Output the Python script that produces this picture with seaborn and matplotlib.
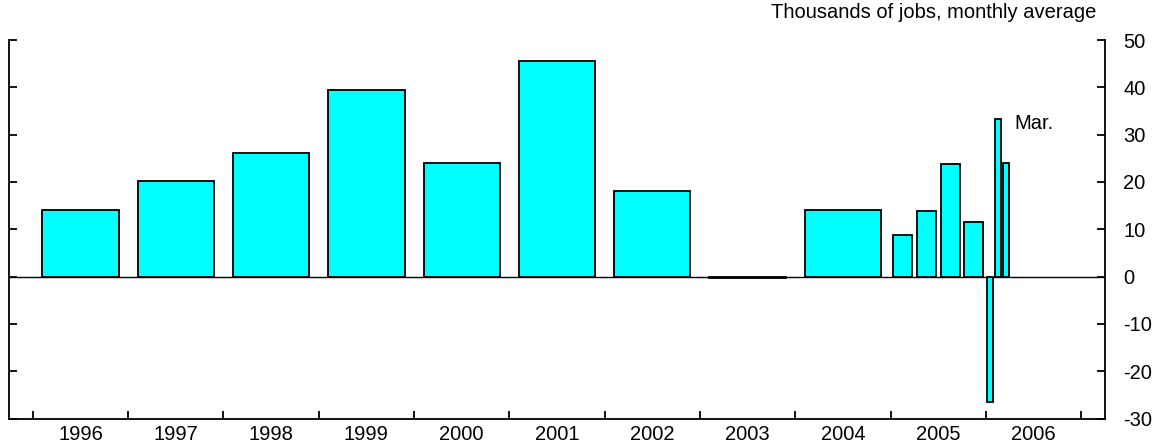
import numpy as np
import matplotlib
matplotlib.use("Agg")
import matplotlib.pyplot as plt
import seaborn as sns

# annual averages 1996-2004
years = [1996, 1997, 1998, 1999, 2000, 2001, 2002, 2003, 2004]
annual = [14.0, 20.3, 26.2, 39.5, 24.1, 45.5, 18.0, -0.3, 14.0]
# quarterly 2005
quarters = [1, 2, 3, 4]
quarterly = [8.7, 13.8, 23.7, 11.6]
# monthly 2006
months = [1, 2, 3]
monthly = [-26.5, 33.2, 24.0]
year_labels = [str(y) for y in range(1996, 2007)]

sns.set_style("ticks")
plt.rcParams["font.family"] = ["Liberation Sans", "DejaVu Sans"]
plt.rcParams["font.size"] = 14.5
plt.rcParams["axes.unicode_minus"] = False
for k in ["text.color", "axes.labelcolor", "xtick.color", "ytick.color", "axes.edgecolor"]:
    plt.rcParams[k] = "black"

fig = plt.figure(figsize=(11.55, 4.44), dpi=100)
ax = fig.add_axes([0.0078, 0.0574, 0.9489, 0.8525])

bar_kw = dict(color="#00ffff", saturation=1, edgecolor="black", linewidth=1.3,
              native_scale=True, width=0.8, ax=ax, errorbar=None)

x_ann = [y + 0.5 for y in years]
x_q = [2005 + (q - 0.5) / 4 for q in quarters]
x_m = [2006 + (m - 0.5) / 12 for m in months]

sns.barplot(x=x_ann, y=annual, **bar_kw)
sns.barplot(x=x_q, y=quarterly, **bar_kw)
sns.barplot(x=x_m, y=monthly, **bar_kw)

ax.axhline(0, color="black", lw=1.0, zorder=0)

ax.set_xlim(1995.75, 2007.25)
ax.set_ylim(-30, 50)
ax.set_xlabel("")
ax.set_ylabel("")

ax.set_xticks(range(1996, 2008))
ax.set_xticklabels([])
ax.set_xticks([y + 0.5 for y in range(1996, 2007)], minor=True)
ax.set_xticklabels(year_labels, minor=True)
ax.tick_params(axis="x", which="major", direction="in", length=6, width=1.3)
ax.tick_params(axis="x", which="minor", length=0, pad=5)

ax.set_yticks(range(-30, 51, 10))
ax.tick_params(axis="y", which="both", direction="in", left=True, right=True,
               labelleft=False, labelright=True, length=6, width=1.3, pad=13)

ax.spines["top"].set_visible(False)
for s in ["left", "right", "bottom"]:
    ax.spines[s].set_visible(True)
    ax.spines[s].set_linewidth(1.3)

ax.text(0.992, 1.073, "Thousands of jobs, monthly average", transform=ax.transAxes,
        ha="right", va="center")
ax.text(2006.30, 32.3, "Mar.", ha="left", va="center")

fig.savefig("out.png", dpi=100)
